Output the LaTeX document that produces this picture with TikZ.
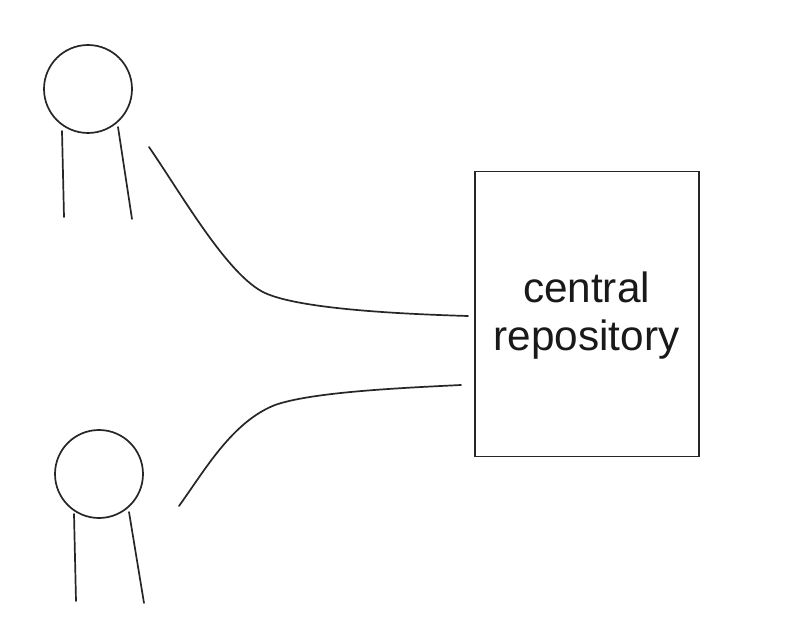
\documentclass[tikz,border=0pt]{standalone}
\usepackage{fontspec}
\setmainfont{Liberation Sans}
\begin{document}
\begin{tikzpicture}[x=1pt,y=-1pt,
  sketch/.style={draw=black!85,line width=1.7pt,line cap=round},
  head/.style={circle,sketch,minimum size=88pt,inner sep=0pt},
  repo/.style={sketch,minimum width=224pt,minimum height=285pt,inner sep=0pt},
  repolabel/.style={align=center,inner sep=0pt,text=black!90,font=\fontsize{42.3}{48}\selectfont}]
\useasboundingbox (0,0) rectangle (812,644);
\fill[white] (0,0) rectangle (812,644);
\node[head] (h1) at (88,89) {};
\node[head] (h2) at (99,474) {};
\node[repo] (r) at (587,314) {};
\node[repolabel] (t) at (586.5,316) {central\\repository};
\coordinate (l1a) at (62,131); \coordinate (l1b) at (64,217);
\coordinate (l2a) at (118,127); \coordinate (l2b) at (132,219);
\coordinate (l3a) at (74,514); \coordinate (l3b) at (76,601);
\coordinate (l4a) at (129,512); \coordinate (l4b) at (144,603);
\coordinate (c1a) at (149,147); \coordinate (c1b) at (468,316);
\coordinate (c2a) at (179,506); \coordinate (c2b) at (461,385);
\draw[sketch] (l1a) -- (l1b);
\draw[sketch] (l2a) -- (l2b);
\draw[sketch] (l3a) -- (l3b);
\draw[sketch] (l4a) -- (l4b);
\draw[sketch] (c1a) .. controls (182,195) and (228,276) .. (265,293) .. controls (300,309) and (400,314) .. (c1b);
\draw[sketch] (c2a) .. controls (205,470) and (232,422) .. (275,405) .. controls (312,392) and (400,388) .. (c2b);
\end{tikzpicture}
\end{document}
